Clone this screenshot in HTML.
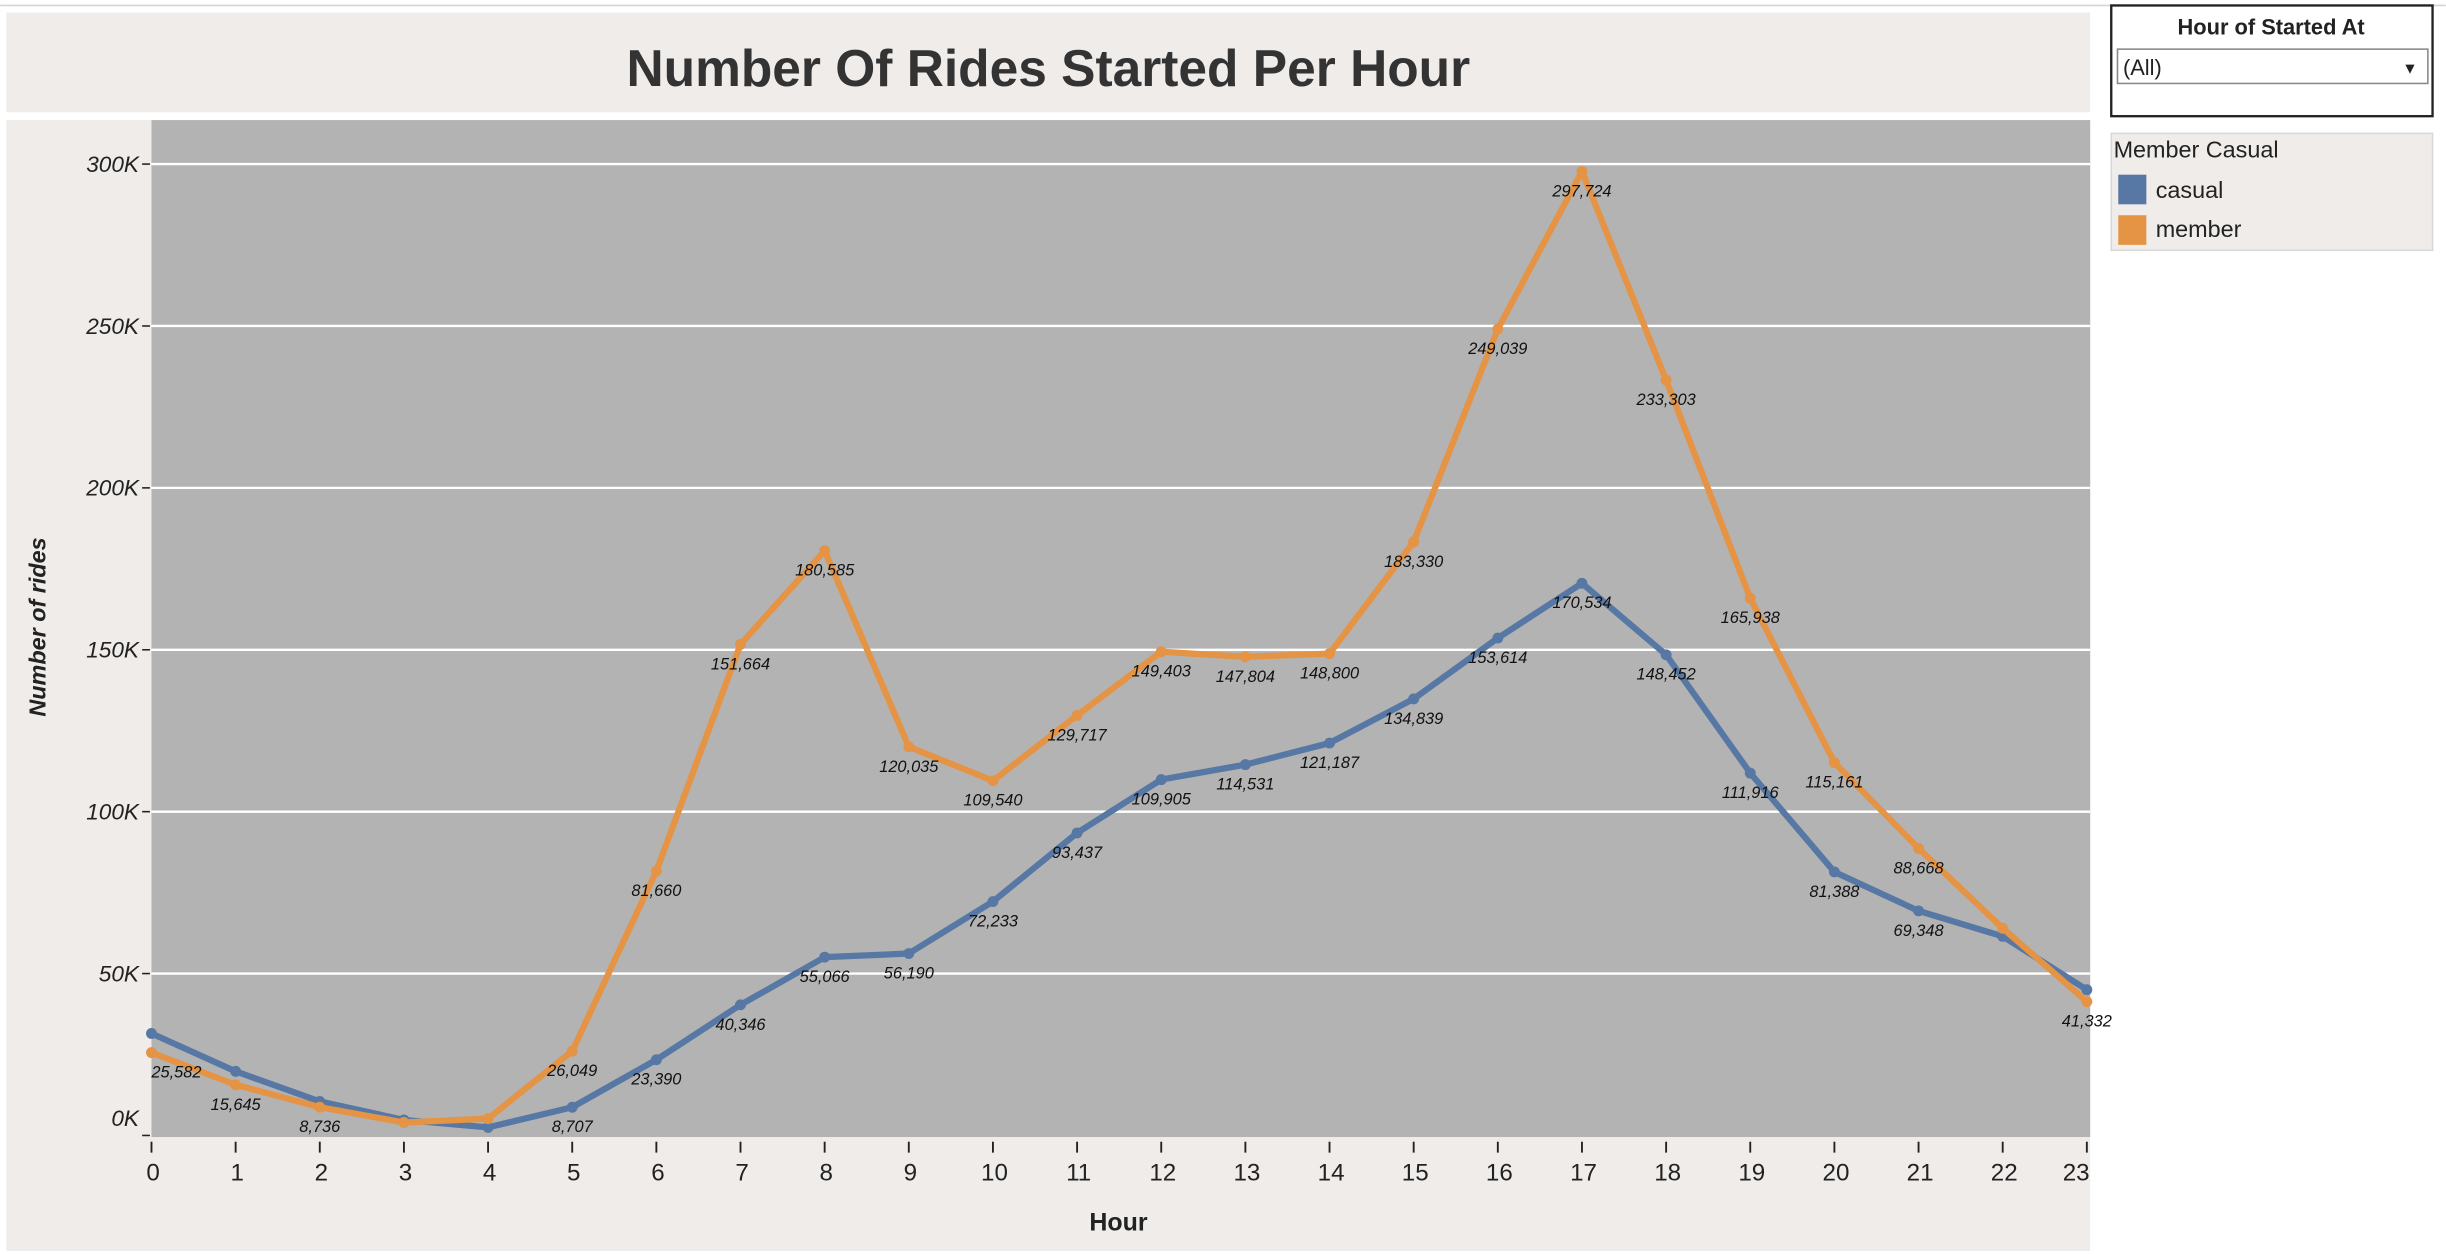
<!DOCTYPE html>
<html><head><meta charset="utf-8">
<style>
html,body{margin:0;padding:0;background:#fff;}
svg{display:block;font-family:"Liberation Sans Narrow","Liberation Sans",sans-serif;}
</style></head>
<body>
<svg id="chart" width="2446" height="1254" viewBox="0 0 1568 804">
  <rect x="0" y="0" width="1568" height="804" fill="#ffffff"/>
  <line x1="0" y1="3.5" x2="1568" y2="3.5" stroke="#d4d4d4" stroke-width="1"/>
  <rect x="4" y="8" width="1336" height="64" fill="#efecea"/>
  <text x="672" y="55" text-anchor="middle" font-size="33" font-weight="bold" fill="#333">Number Of Rides Started Per Hour</text>
  <rect x="4" y="77" width="1336" height="725" fill="#efecea"/>
  <rect x="97" y="77" width="1243" height="652" fill="#b3b3b3"/>
  <g id="grid"></g>
  <g id="yaxis"></g>
  <g id="xaxis"></g>
  <g id="series"></g>
  <text x="717" y="789" text-anchor="middle" font-size="16" font-weight="bold" fill="#222">Hour</text>
  <text transform="translate(29,402) rotate(-90)" text-anchor="middle" font-size="15" font-weight="bold" font-style="italic" fill="#222">Number of rides</text>

  <g>
    <rect x="1353.5" y="3.5" width="206" height="71" fill="#fff" stroke="#222" stroke-width="1.5"/>
    <text x="1456" y="22" text-anchor="middle" font-size="14" font-weight="bold" fill="#222">Hour of Started At</text>
    <rect x="1357.5" y="31.5" width="199" height="22" fill="#fff" stroke="#888" stroke-width="1"/>
    <text x="1361" y="48" font-size="14" fill="#222">(All)</text>
    <text x="1545" y="47" text-anchor="middle" font-size="10" fill="#222">▼</text>
  </g>
  <g>
    <rect x="1353.5" y="85.5" width="206" height="75" fill="#efecea" stroke="#d8d8d8" stroke-width="1"/>
    <text x="1355" y="101" font-size="15" fill="#222">Member Casual</text>
    <rect x="1358" y="112" width="18" height="19" fill="#5778a4"/>
    <text x="1382" y="127" font-size="15" fill="#222">casual</text>
    <rect x="1358" y="138" width="18" height="19" fill="#e49444"/>
    <text x="1382" y="152" font-size="15" fill="#222">member</text>
  </g>
</svg>
<script>
const hours = [0,1,2,3,4,5,6,7,8,9,10,11,12,13,14,15,16,17,18,19,20,21,22,23];
const casualValues = [31500,19800,10500,4800,2500,8707,23390,40346,55066,56190,72233,93437,109905,114531,121187,134839,153614,170534,148452,111916,81388,69348,61500,45000];
const memberValues = [25582,15645,8736,4000,5200,26049,81660,151664,180585,120035,109540,129717,149403,147804,148800,183330,249039,297724,233303,165938,115161,88668,64000,41332];
const casualLabeled = [false,false,false,false,false,true,true,true,true,true,true,true,true,true,true,true,true,true,true,true,true,true,false,false];
const memberLabeled = [true,true,true,false,false,true,true,true,true,true,true,true,true,true,true,true,true,true,true,true,true,true,false,true];
const yTicks = [0,50000,100000,150000,200000,250000,300000];
const yTickLabels = ["0K","50K","100K","150K","200K","250K","300K"];

const NS = "http://www.w3.org/2000/svg";
const X0 = 97, XSTEP = 53.95, Y0 = 728, YPER = 103.8/50000;
function xs(h){ return X0 + h*XSTEP; }
function ys(v){ return Y0 - v*YPER; }
function mk(tag, attrs, parent){ const e=document.createElementNS(NS,tag); for(const k in attrs) e.setAttribute(k,attrs[k]); parent.appendChild(e); return e; }
function fmt(v){ return v.toLocaleString("en-US"); }

const grid=document.getElementById("grid"), yax=document.getElementById("yaxis"), xax=document.getElementById("xaxis"), ser=document.getElementById("series");
yTicks.forEach((t,i)=>{
  if(t>0){
    const g=mk("line",{x1:97,x2:1340,y1:ys(t),y2:ys(t),stroke:"#ffffff","stroke-width":1.5},grid);
    
    
  }
  const tk=mk("line",{x1:91,x2:96,y1:ys(t),y2:ys(t),stroke:"#222","stroke-width":1},yax);
  
  
  const lb=mk("text",{x:89,y:ys(t)+(t===0?-6:5),"text-anchor":"end","font-size":14.5,"font-style":"italic",fill:"#222"},yax);
  lb.textContent=yTickLabels[i];
  
  
});
hours.forEach(h=>{
  const tk=mk("line",{x1:xs(h),x2:xs(h),y1:732,y2:739,stroke:"#222","stroke-width":1.2},xax);
  
  
  const lb=mk("text",{x:Math.min(xs(h)+1,1331),y:757,"text-anchor":"middle","font-size":15.5,fill:"#222"},xax);
  lb.textContent=h;
  
  
});
function drawSeries(vals, labeled, color, name){
  const pts=hours.map((h,i)=>xs(h)+","+ys(vals[i])).join(" ");
  const pl=mk("polyline",{points:pts,fill:"none",stroke:color,"stroke-width":4,"stroke-linejoin":"round"},ser);
  
  
  hours.forEach((h,i)=>{
    const c=mk("circle",{cx:xs(h),cy:ys(vals[i]),r:3.5,fill:color},ser);
    
    
    if(labeled[i]){
      const t=mk("text",{x:Math.max(xs(h),113),y:ys(vals[i])+16,"text-anchor":"middle","font-size":10.5,"font-style":"italic",fill:"#111"},ser);
      t.textContent=fmt(vals[i]);
      
      
    }
  });
}
drawSeries(casualValues, casualLabeled, "#5778a4", "casual");
drawSeries(memberValues, memberLabeled, "#e49444", "member");
</script>
</body></html>
